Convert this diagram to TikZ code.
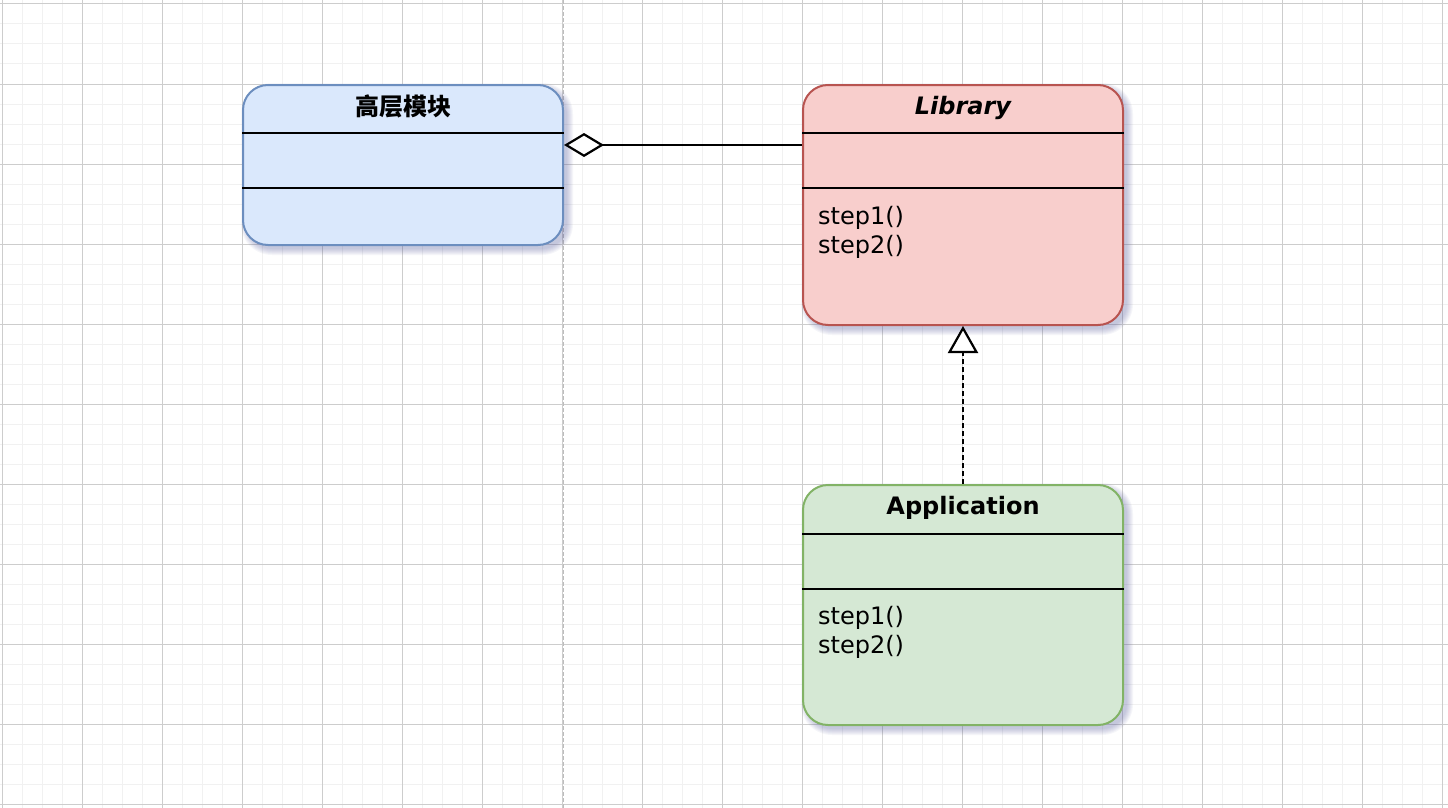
\documentclass[tikz,border=0pt]{standalone}
\usepackage{fontspec}
\setmainfont{DejaVu Sans}
\newfontfamily\cjk{Noto Sans CJK SC}
\usetikzlibrary{arrows.meta,calc}
\definecolor{bluefill}{HTML}{DAE8FC}\definecolor{bluedraw}{HTML}{6C8EBF}
\definecolor{redfill}{HTML}{F8CECC}\definecolor{reddraw}{HTML}{B85450}
\definecolor{greenfill}{HTML}{D5E8D4}\definecolor{greendraw}{HTML}{82B366}
\definecolor{minorgrid}{HTML}{F1F1F1}\definecolor{majorgrid}{HTML}{CDCDCD}
\definecolor{pageline}{HTML}{BDBDBD}\definecolor{shadowc}{HTML}{5A5EA0}
\tikzset{
  umlbox/.style={draw, line width=2pt, rounded corners=25pt, inner sep=0pt},
  sepline/.style={line width=2.2pt, black},
  titletext/.style={font=\fontsize{24}{29}\selectfont\bfseries, inner sep=0pt},
  methodtext/.style={font=\fontsize{24}{29}\selectfont, inner sep=0pt, align=left, anchor=base west},
  conn/.style={line width=2.2pt, black, line join=miter},
  minorline/.style={minorgrid, line width=1pt},
  majorline/.style={majorgrid, line width=1pt},
}
\newcommand{\softshadow}[4]{%
  \foreach \i in {0,...,6}{%
    \fill[shadowc, opacity=0.055, rounded corners=25pt+\i pt]
      ($(#1,#2)+(4-\i,4-\i)$) rectangle ($(#3,#4)+(4+\i,4+\i)$);
  }%
}
\begin{document}
\begin{tikzpicture}[x=1pt,y=-1pt]
\useasboundingbox (0,0) rectangle (1448,808);
\fill[white] (0,0) rectangle (1448,808);
% grid
\foreach \x in {2,22,...,1442} \draw[minorline] (\x,0) -- (\x,808);
\foreach \y in {4,24,...,804} \draw[minorline] (0,\y) -- (1448,\y);
\foreach \x in {2,82,...,1442} \draw[majorline] (\x,0) -- (\x,808);
\foreach \y in {4,84,...,804} \draw[majorline] (0,\y) -- (1448,\y);
% page break line
\coordinate (pgtop) at (563,0);
\coordinate (pgbot) at (563,808);
\draw[pageline, line width=1pt, dash pattern=on 4pt off 2pt] (pgtop) -- (pgbot);
% shadows
\softshadow{243}{85}{563}{245}
\softshadow{803}{85}{1123}{325}
\softshadow{803}{485}{1123}{725}
% boxes
\node[umlbox, draw=bluedraw, fill=bluefill, minimum width=320pt, minimum height=160pt] (blue) at (403,165) {};
\node[umlbox, draw=reddraw, fill=redfill, minimum width=320pt, minimum height=240pt] (red) at (963,205) {};
\node[umlbox, draw=greendraw, fill=greenfill, minimum width=320pt, minimum height=240pt] (green) at (963,605) {};
% separators
\draw[sepline] (blue.west |- 0,133) -- (blue.east |- 0,133);
\draw[sepline] (blue.west |- 0,188) -- (blue.east |- 0,188);
\draw[sepline] (red.west |- 0,133) -- (red.east |- 0,133);
\draw[sepline] (red.west |- 0,188) -- (red.east |- 0,188);
\draw[sepline] (green.west |- 0,534) -- (green.east |- 0,534);
\draw[sepline] (green.west |- 0,589) -- (green.east |- 0,589);
% texts
\node[titletext] (bluetitle) at (403,106) {\cjk\bfseries 高层模块};
\node[titletext, anchor=base] (redtitle) at (963,114.5) {\itshape Library};
\node[titletext, anchor=base] (greentitle) at (963,514.5) {Application};
\node[methodtext] (redmeth) at (818,253.5) {step1()\\step2()};
\node[methodtext] (greenmeth) at (818,653.5) {step1()\\step2()};
% connectors
\draw[conn, -{Diamond[open, fill=white, length=40pt, width=24pt, line width=2.2pt]}]
  (red.west |- 0,145) -- (blue.east |- 0,145);
\draw[conn, dash pattern=on 5pt off 3pt, -{Triangle[open, fill=white, length=27pt, width=30pt, line width=2.2pt]}]
  (green.north) -- (red.south);
\end{tikzpicture}
\end{document}
